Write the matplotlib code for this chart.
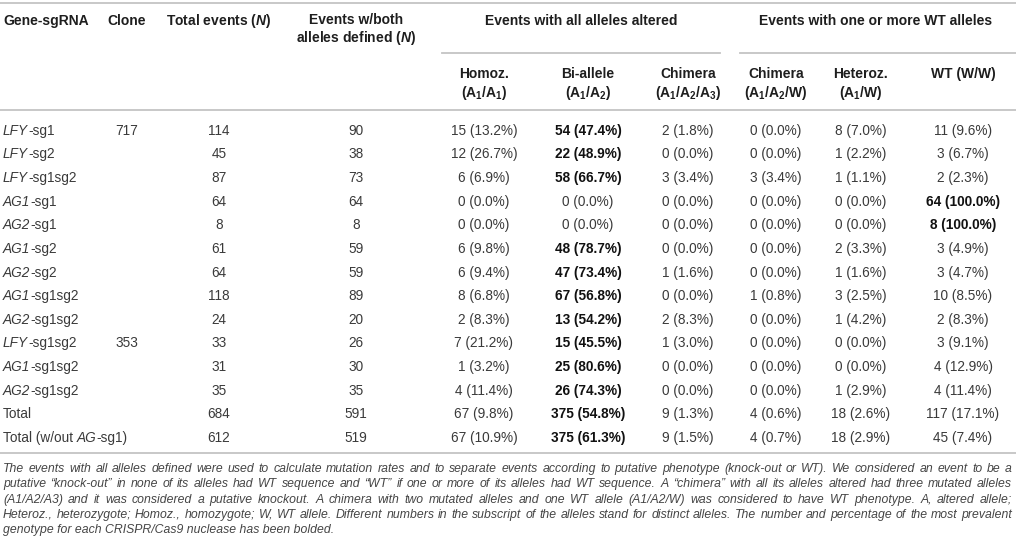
import numpy as np
import matplotlib
matplotlib.use("Agg")
from matplotlib import pyplot as plt

# table content (*...* marks the italic gene name)
genes = ['*LFY*-sg1', '*LFY*-sg2', '*LFY*-sg1sg2', '*AG1*-sg1', '*AG2*-sg1', '*AG1*-sg2',
         '*AG2*-sg2', '*AG1*-sg1sg2', '*AG2*-sg1sg2', '*LFY*-sg1sg2', '*AG1*-sg1sg2',
         '*AG2*-sg1sg2', 'Total', 'Total (w/out *AG*-sg1)']
clone = ['717', '', '', '', '', '', '', '', '', '353', '', '', '', '']
total_events = [114, 45, 87, 64, 8, 61, 64, 118, 24, 33, 31, 35, 684, 612]
both_defined = [90, 38, 73, 64, 8, 59, 59, 89, 20, 26, 30, 35, 591, 519]

homoz_n = [15, 12, 6, 0, 0, 6, 6, 8, 2, 7, 1, 4, 67, 67]
homoz_p = [13.2, 26.7, 6.9, 0.0, 0.0, 9.8, 9.4, 6.8, 8.3, 21.2, 3.2, 11.4, 9.8, 10.9]
biall_n = [54, 22, 58, 0, 0, 48, 47, 67, 13, 15, 25, 26, 375, 375]
biall_p = [47.4, 48.9, 66.7, 0.0, 0.0, 78.7, 73.4, 56.8, 54.2, 45.5, 80.6, 74.3, 54.8, 61.3]
chim3_n = [2, 0, 3, 0, 0, 0, 1, 0, 2, 1, 0, 0, 9, 9]
chim3_p = [1.8, 0.0, 3.4, 0.0, 0.0, 0.0, 1.6, 0.0, 8.3, 3.0, 0.0, 0.0, 1.3, 1.5]
chimw_n = [0, 0, 3, 0, 0, 0, 0, 1, 0, 0, 0, 0, 4, 4]
chimw_p = [0.0, 0.0, 3.4, 0.0, 0.0, 0.0, 0.0, 0.8, 0.0, 0.0, 0.0, 0.0, 0.6, 0.7]
het_n = [8, 1, 1, 0, 0, 2, 1, 3, 1, 0, 0, 1, 18, 18]
het_p = [7.0, 2.2, 1.1, 0.0, 0.0, 3.3, 1.6, 2.5, 4.2, 0.0, 0.0, 2.9, 2.6, 2.9]
wt_n = [11, 3, 2, 64, 8, 3, 3, 10, 2, 3, 4, 4, 117, 45]
wt_p = [9.6, 6.7, 2.3, 100.0, 100.0, 4.9, 4.7, 8.5, 8.3, 9.1, 12.9, 11.4, 17.1, 7.4]
# column holding the most prevalent genotype (bold)
bold_col = ['bi', 'bi', 'bi', 'wt', 'wt', 'bi', 'bi', 'bi', 'bi', 'bi', 'bi', 'bi', 'bi', 'bi']

footnote = [
    'The events with all alleles defined were used to calculate mutation rates and to separate events according to putative phenotype (knock-out or WT). We considered an event to be a',
    'putative \u201cknock-out\u201d in none of its alleles had WT sequence and \u201cWT\u201d if one or more of its alleles had WT sequence. A \u201cchimera\u201d with all its alleles altered had three mutated alleles',
    '(A1/A2/A3) and it was considered a putative knockout. A chimera with two mutated alleles and one WT allele (A1/A2/W) was considered to have WT phenotype. A, altered allele;',
    'Heteroz., heterozygote; Homoz., homozygote; W, WT allele. Different numbers in the subscript of the alleles stand for distinct alleles. The number and percentage of the most prevalent',
    'genotype for each CRISPR/Cas9 nuclease has been bolded.',
]

plt.rcParams['font.family'] = 'Liberation Sans'
plt.rcParams['mathtext.fontset'] = 'custom'
plt.rcParams['mathtext.rm'] = 'Liberation Sans'
plt.rcParams['mathtext.it'] = 'Liberation Sans:italic'
plt.rcParams['mathtext.bf'] = 'Liberation Sans:bold'
plt.rcParams['mathtext.bfit'] = 'Liberation Sans:italic:bold'

W, H = 1016, 550
fig = plt.figure(figsize=(W / 100, H / 100), dpi=100)
ax = fig.add_axes([0, 0, 1, 1])
ax.set_xlim(0, W)
ax.set_ylim(H, 0)
ax.axis('off')
renderer = fig.canvas.get_renderer()

line_col = '#c4c4c4'
hdr_col = '#1e1e1e'
txt_col = '#3a3a3a'
bold_col_c = '#111111'
fs = 9.8
fs_b = 10.0


def width(s, **kw):
    t = ax.text(0, 0, s, **kw)
    w = t.get_window_extent(renderer).width
    t.remove()
    return w


# rules
ax.plot([0, W], [3, 3], color=line_col, lw=1.3)
ax.plot([442, 720], [53, 53], color=line_col, lw=1.3)
ax.plot([740, W], [53, 53], color=line_col, lw=1.3)
ax.plot([0, W], [110, 110], color=line_col, lw=1.3)
ax.plot([0, W], [453, 453], color=line_col, lw=1.3)

# header
hk = dict(fontsize=fs_b, fontweight='bold', color=hdr_col, va='baseline')
ax.text(3, 25, 'Gene-sgRNA', ha='left', **hk)
ax.text(127, 25, 'Clone', ha='center', **hk)
ax.text(219, 25, 'Total events ($\\mathbfit{N}$)', ha='center', **hk)
ax.text(356, 24, 'Events w/both', ha='center', **hk)
ax.text(356, 42, 'alleles defined ($\\mathbfit{N}$)', ha='center', **hk)
ax.text(581, 25, 'Events with all alleles altered', ha='center', **hk)
ax.text(876, 25, 'Events with one or more WT alleles', ha='center', **hk)

sub_x = [484, 588, 688, 776, 861, 963]
sub1 = ['Homoz.', 'Bi-allele', 'Chimera', 'Chimera', 'Heteroz.', 'WT (W/W)']
sub2 = ['(A$_\\mathbf{1}$/A$_\\mathbf{1}$)', '(A$_\\mathbf{1}$/A$_\\mathbf{2}$)',
        '(A$_\\mathbf{1}$/A$_\\mathbf{2}$/A$_\\mathbf{3}$)', '(A$_\\mathbf{1}$/A$_\\mathbf{2}$/W)',
        '(A$_\\mathbf{1}$/W)', '']
for x, a, b in zip(sub_x, sub1, sub2):
    ax.text(x, 78, a, ha='center', **hk)
    if b:
        ax.text(x, 97, b, ha='center', **hk)

# body
row_y = 130 + 23.62 * np.arange(len(genes))
rk = dict(fontsize=fs, color=txt_col, va='baseline')
bk = dict(fontsize=fs, color=bold_col_c, fontweight='bold', va='baseline')
cols = [('homoz', homoz_n, homoz_p), ('bi', biall_n, biall_p), ('chim3', chim3_n, chim3_p),
        ('chimw', chimw_n, chimw_p), ('het', het_n, het_p), ('wt', wt_n, wt_p)]
for i, y in enumerate(row_y):
    yb = y + 4.8
    # gene name: alternate regular / italic pieces
    x = 3
    for j, part in enumerate(genes[i].split('*')):
        if not part:
            continue
        style = 'italic' if j % 2 else 'normal'
        ax.text(x, yb, part, ha='left', style=style, **rk)
        x += width(part, style=style, **rk)
    ax.text(127, yb, clone[i], ha='center', **rk)
    ax.text(219, yb, str(total_events[i]), ha='center', **rk)
    ax.text(356, yb, str(both_defined[i]), ha='center', **rk)
    for x, (key, n, p) in zip(sub_x, cols):
        kw = bk if bold_col[i] == key else rk
        ax.text(x, yb, f'{n[i]} ({p[i]:.1f}%)', ha='center', **kw)

# footnote, justified
fk = dict(style='italic', color='#454545', va='baseline', ha='left')
left, right = 3, 1012
base = 8.0
scale = min((right - left) / width(l, fontsize=base, **fk) for l in footnote[:-1])
ffs = base * scale * 0.998
foot_y = [472, 487.3, 502.6, 517.9, 533.2]
for k, (line, y) in enumerate(zip(footnote, foot_y)):
    if k == len(footnote) - 1:
        ax.text(left, y, line, fontsize=ffs, **fk)
        continue
    words = line.split(' ')
    ws = [width(w_, fontsize=ffs, **fk) for w_ in words]
    gap = (right - left - sum(ws)) / (len(words) - 1)
    x = left
    for w_, wd in zip(words, ws):
        ax.text(x, y, w_, fontsize=ffs, **fk)
        x += wd + gap

fig.savefig('out.png', dpi=100)
